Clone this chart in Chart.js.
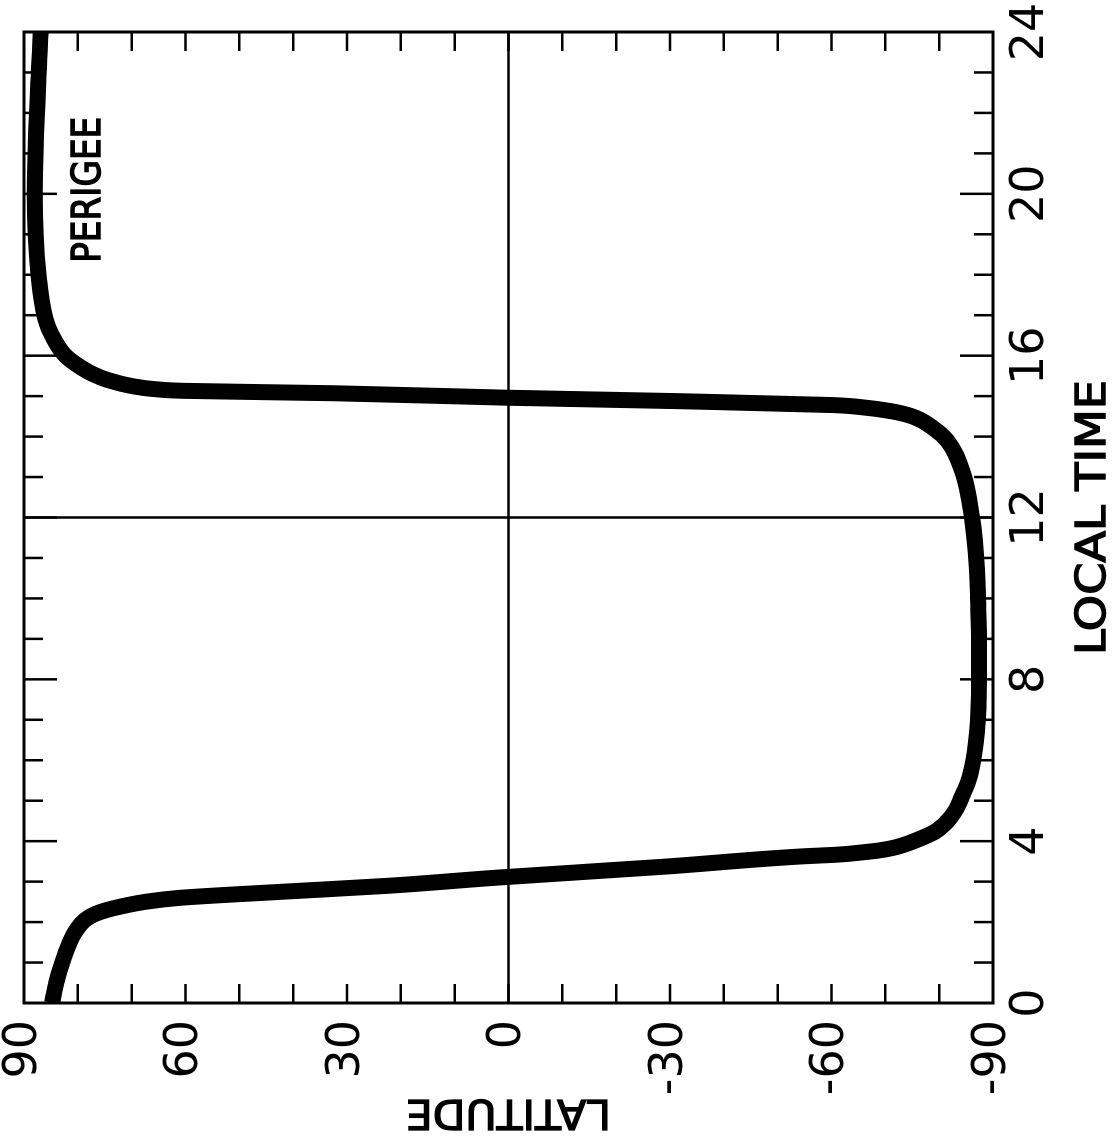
<!DOCTYPE html>
<html>
<head>
<meta charset="utf-8">
<script src="https://cdn.jsdelivr.net/npm/chart.js@4.4.1/dist/chart.umd.min.js"></script>
<style>
  html, body { margin: 0; padding: 0; background: #fff; overflow: hidden; }
  /* the figure is drawn upright, then the page turns it a quarter left like the scan */
  #hoja {
    position: absolute; left: 0; top: 0;
    width: 1137px; height: 1113px;
    transform-origin: 0 0;
    transform: translate(0, 1137px) rotate(-90deg);
  }
</style>
</head>
<body>
<div id="hoja"><canvas id="grafica" width="1137" height="1113"></canvas></div>
<script>
// hours (local time) and perigee latitude
const horaLocal = [0, 0.5, 1, 1.5, 1.8, 2.05, 2.2, 2.3, 2.4, 2.5, 2.6, 2.75, 2.9, 3.1, 3.37, 3.62, 3.67, 3.72, 3.77, 3.83,
    3.89, 4.03, 4.23, 4.45, 4.6, 4.8, 5.0, 5.19, 5.44, 5.83, 6.67, 8, 9.1, 10, 10.8, 12, 13.1, 13.9, 14.2, 14.5,
    14.63, 14.72, 14.78, 14.88, 14.96, 15.07, 15.13, 15.17, 15.25, 15.4, 15.55, 15.7, 16, 16.5, 16.9, 18, 20, 22, 24];
const latitud = [84.8, 84.0, 82.9, 81.5, 80.3, 78.7, 76.8, 74.6, 71.5, 67.5, 61, 42, 22, 2, -29, -54, -61.5, -65.5, -68.8, -71.3,
    -73.0, -75.9, -79.2, -81.2, -82.2, -83.2, -83.9, -84.5, -85.3, -86.1, -87.0, -87.4, -87.4, -87.2, -87.0, -86.1, -84.4, -81.5, -79, -75,
    -71, -66, -60, -30, 0, 32, 60, 65.5, 70, 74.5, 77.3, 79.3, 82.3, 84.8, 86.0, 87.3, 88.0, 87.6, 86.9];

const horasEtiquetadas = [0, 4, 8, 12, 16, 20, 24];
const latitudesEtiquetadas = [-90, -60, -30, 0, 30, 60, 90];
const etiquetaPerigeo = { hora: 20.1, lat: 75.9 };

const fuenteTitulo = "'DejaVu Sans Condensed', 'Liberation Sans Narrow', 'DejaVu Sans', sans-serif";

function textoAjustado(ctx, texto, x, y, ancho, tam, angulo) {
    ctx.save();
    ctx.translate(x, y);
    ctx.rotate(angulo);
    ctx.font = tam + "px " + fuenteTitulo;
    const w = ctx.measureText(texto).width;
    ctx.scale(ancho / w, 1);
    ctx.textAlign = "center";
    ctx.textBaseline = "alphabetic";
    ctx.fillStyle = "#000";
    ctx.strokeStyle = "#000";
    ctx.lineWidth = 1.3;
    ctx.fillText(texto, 0, 0);
    ctx.strokeText(texto, 0, 0);
    ctx.restore();
}

const marco = {
    id: "marco",
    beforeDatasetsDraw(chart) {
        const { ctx, chartArea: a, scales } = chart;
        ctx.save();
        ctx.strokeStyle = "#000";
        ctx.lineWidth = 2.5;
        ctx.beginPath();
        const y0 = scales.y.getPixelForValue(0);
        const x12 = scales.x.getPixelForValue(12);
        ctx.moveTo(a.left, y0); ctx.lineTo(a.right, y0);
        ctx.moveTo(x12, a.top); ctx.lineTo(x12, a.bottom);
        ctx.stroke();
        ctx.restore();
    },
    afterDatasetsDraw(chart) {
        const { ctx, chartArea: a, scales } = chart;
        ctx.save();
        ctx.strokeStyle = "#000";
        ctx.lineWidth = 2.5;
        ctx.beginPath();
        scales.x.ticks.forEach(t => {
            if (t.value <= 0 || t.value >= 24) return;
            const px = scales.x.getPixelForValue(t.value);
            const largo = t.value % 4 === 0 ? 33 : 19;
            ctx.moveTo(px, a.top); ctx.lineTo(px, a.top + largo);
            ctx.moveTo(px, a.bottom); ctx.lineTo(px, a.bottom - largo);
        });
        scales.y.ticks.forEach(t => {
            if (t.value <= -90 || t.value >= 90) return;
            const py = scales.y.getPixelForValue(t.value);
            ctx.moveTo(a.left, py); ctx.lineTo(a.left + 19, py);
            ctx.moveTo(a.right, py); ctx.lineTo(a.right - 19, py);
        });
        ctx.stroke();
        ctx.lineWidth = 3;
        ctx.strokeRect(a.left, a.top, a.right - a.left, a.bottom - a.top);
        ctx.restore();

        const cx = (a.left + a.right) / 2;
        const cy = (a.top + a.bottom) / 2;
        textoAjustado(ctx, "LOCAL TIME", cx, 1105, 275, 41, 0);
        textoAjustado(ctx, "LATITUDE", 37, cy, 205, 41, -Math.PI / 2);
        const px = scales.x.getPixelForValue(etiquetaPerigeo.hora);
        const py = scales.y.getPixelForValue(etiquetaPerigeo.lat);
        textoAjustado(ctx, "PERIGEE", px, py, 146, 39, 0);
    }
};

const ctx = document.getElementById("grafica").getContext("2d");
window.grafica = new Chart(ctx, {
    type: "scatter",
    data: {
        datasets: [{
            data: horaLocal.map((h, i) => ({ x: h, y: latitud[i] })),
            showLine: true,
            borderColor: "#000",
            borderWidth: 16,
            pointRadius: 0,
            cubicInterpolationMode: "monotone",
            borderJoinStyle: "round",
            clip: 0
        }]
    },
    options: {
        responsive: false,
        animation: false,
        devicePixelRatio: 1,
        layout: { padding: { left: 0, right: 32, top: 24, bottom: 0 } },
        plugins: { legend: { display: false }, tooltip: { enabled: false } },
        scales: {
            x: {
                type: "linear", min: 0, max: 24,
                grid: { display: false, drawTicks: false },
                border: { display: false },
                ticks: {
                    stepSize: 1, autoSkip: false, maxRotation: 0, padding: 15, color: "#000",
                    font: { family: "'DejaVu Sans', sans-serif", size: 46, lineHeight: 1 },
                    callback: v => horasEtiquetadas.includes(v) ? String(v) : ""
                },
                afterFit: s => { s.height = 120; s.paddingLeft = 0; s.paddingRight = 0; }
            },
            y: {
                type: "linear", min: -90, max: 90,
                grid: { display: false, drawTicks: false },
                border: { display: false },
                ticks: {
                    stepSize: 10, autoSkip: false, padding: 17, color: "#000",
                    font: { family: "'DejaVu Sans', sans-serif", size: 46, lineHeight: 1 },
                    callback: v => latitudesEtiquetadas.includes(v) ? String(v) : ""
                },
                afterFit: s => { s.width = 134; s.paddingTop = 0; s.paddingBottom = 0; }
            }
        }
    },
    plugins: [marco]
});
</script>
</body>
</html>
